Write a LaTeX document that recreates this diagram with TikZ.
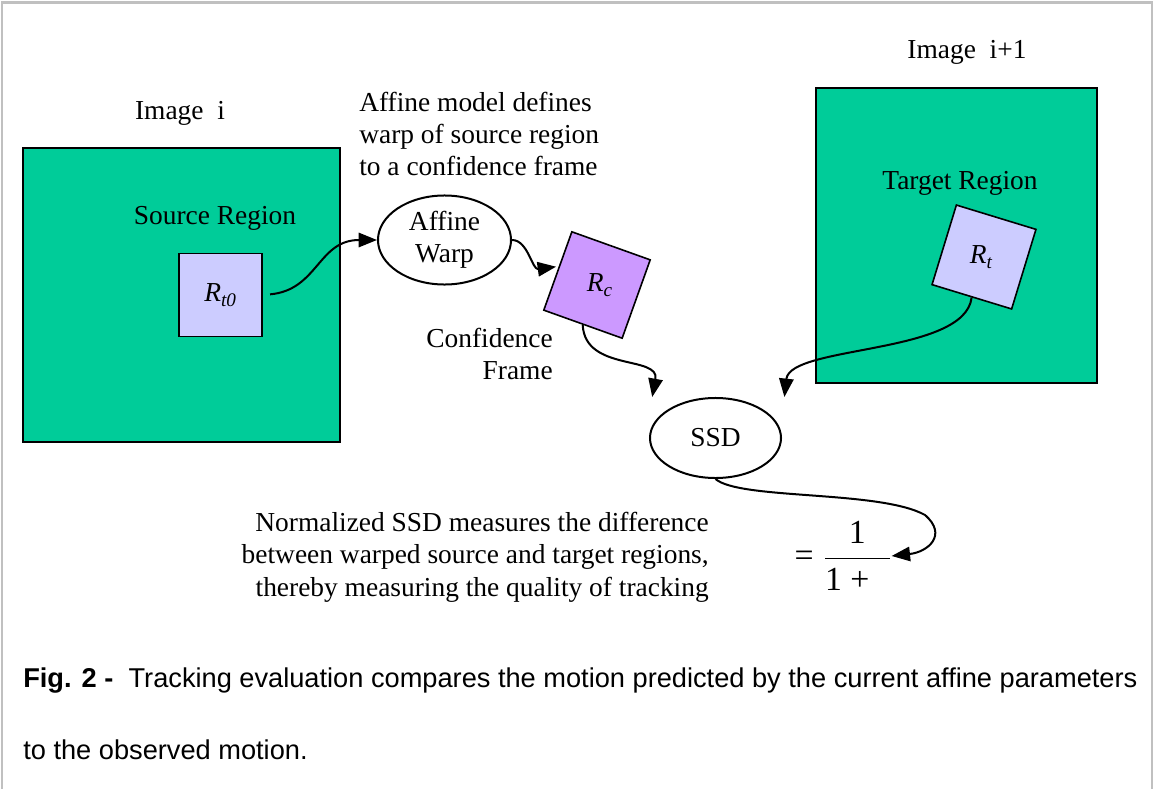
\documentclass[tikz,border=0pt]{standalone}
\usepackage{fontspec}
\setmainfont{Liberation Serif}
\setsansfont{Liberation Sans}
\usetikzlibrary{arrows.meta,positioning,shapes.geometric}
\definecolor{imggreen}{RGB}{0,204,153}
\definecolor{lavender}{RGB}{204,204,255}
\definecolor{lilac}{RGB}{204,153,255}
\definecolor{edge}{RGB}{192,192,192}
\tikzset{
  >={Triangle[length=4.6mm,width=3.6mm]},
  picframe/.style={draw=black,line width=0.05cm,fill=imggreen,inner sep=0pt},
  patch/.style={draw=black,line width=0.04cm,fill=#1,minimum size=2.08cm,inner sep=0pt},
  patch/.default=lavender,
  oval/.style={ellipse,draw=black,line width=0.05cm,align=center,inner sep=0pt,
    font=\fontsize{19.5}{23}\selectfont},
  flow/.style={->,line width=0.05cm},
  tag/.style={align=center,inner sep=0pt,font=\fontsize{19.5}{23}\selectfont},
  captext/.style={anchor=west,inner sep=0pt,font=\sffamily\fontsize{19.35}{22}\selectfont},
}
\begin{document}
\begin{tikzpicture}[x=0.025cm,y=-0.025cm]
  \useasboundingbox (0,0) rectangle (1153,789);
  \draw[edge,line width=0.05cm] (2,789) -- (2,2.5) -- (1152,2.5) -- (1152,789);
  % the two images
  \node[picframe,minimum width=7.925cm,minimum height=7.35cm] (img0) at (181.5,295) {};
  \node[picframe,minimum width=7.025cm,minimum height=7.375cm] (img1) at (956.5,235.5) {};
  \node[tag] (lab0) at (180,113) {Image~~i};
  \node[tag] (lab1) at (967,52) {Image~~i+1};
  \node[tag] (src) at (215,218) {Source Region};
  \node[tag] (tgt) at (960,183) {Target Region};
  % regions
  \node[patch] (Rt0) at (220.5,295) {};
  \node[tag] at (Rt0) {\itshape R\textsubscript{t0}};
  \node[patch=lilac,rotate=-19.7] (Rc) at (597,285) {};
  \node[tag] at ([xshift=2]Rc.center) {\itshape R\textsubscript{c}};
  \node[patch,rotate=-17] (Rt) at (984,257) {};
  \node[tag] at ([xshift=-2]Rt.center) {\itshape R\textsubscript{t}};
  % ovals
  \node[oval,minimum width=3.325cm,minimum height=2.225cm] (warp) at (444.5,240) {Affine\\Warp};
  \node[oval,minimum width=3.275cm,minimum height=2cm] (ssd) at (715.5,438) {SSD};
  % notes
  \node[tag,anchor=west,align=left] (note1) at (359,134) {Affine model defines\\warp of source region\\to a confidence frame};
  \node[tag,anchor=east,align=right] (conf) at (553,354) {Confidence\\Frame};
  \node[tag,anchor=east,align=right] (note2) at (709,557) {Normalized SSD measures the difference\\between warped source and target regions,\\thereby measuring the quality of tracking};
  \node[inner sep=0pt,font=\fontsize{24}{28}\selectfont] (ratio) at (843,556)
    {$\displaystyle \mbox{=}\;\frac{\mbox{1}}{\mbox{1 +}\hspace{0.6em}}$};
  % connectors
  \draw[flow,shorten <=0.18cm] (Rt0.east) .. controls (318,290) and (318,240) .. (warp.west);
  \draw[flow] (warp.east) .. controls (528,240) and (532,270) .. ([shift={(-1,-4)}]Rc.west);
  \draw[flow] (Rc.south) .. controls (585,372) and (660,355) .. ([xshift=-45]ssd.north);
  \draw[flow] (Rt.south) .. controls (965,355) and (790,345) .. ([xshift=49]ssd.north);
  \coordinate (bend) at (925,515);
  \draw[flow] (ssd.south) .. controls (740,500) and (880,490) .. (bend)
    .. controls (948,535) and (928,552) .. (ratio.east);
  % caption
  \node[captext] (fig) at (23,681) {\textbf{Fig. 2 -}\ \ Tracking evaluation compares the motion predicted by the current affine parameters};
  \node[captext] (fig2) at (23,750) {to the observed motion.};
\end{tikzpicture}
\end{document}
